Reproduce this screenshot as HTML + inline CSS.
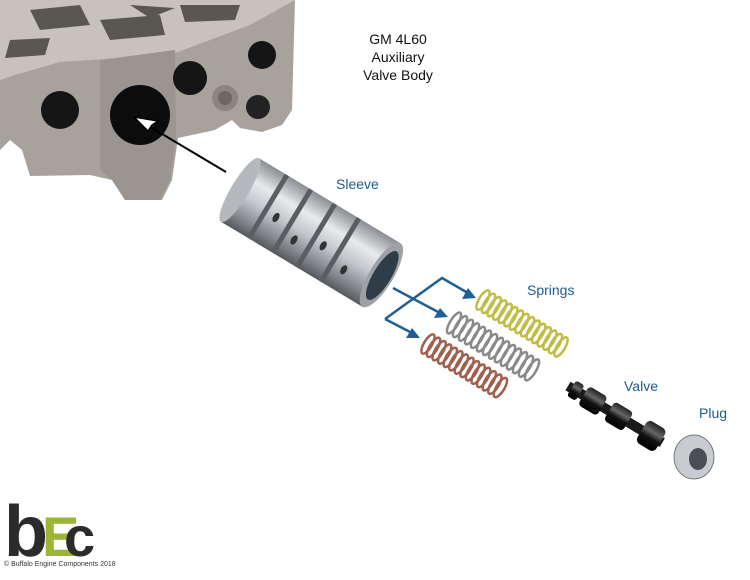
<!DOCTYPE html>
<html><head><meta charset="utf-8"><style>
html,body{margin:0;padding:0;background:#fff;}
svg{display:block;}
text{font-family:"Liberation Sans",sans-serif;}
</style></head><body>
<svg width="750" height="580" viewBox="0 0 750 580" xmlns="http://www.w3.org/2000/svg">
<defs>
<linearGradient id="metal" x1="0" y1="0" x2="0" y2="1">
<stop offset="0" stop-color="#8a8d92"/><stop offset="0.3" stop-color="#e8eaec"/><stop offset="0.55" stop-color="#c4c7cb"/><stop offset="0.85" stop-color="#7d8085"/><stop offset="1" stop-color="#55585c"/>
</linearGradient>
<linearGradient id="blk" x1="0" y1="0" x2="0" y2="1">
<stop offset="0" stop-color="#222"/><stop offset="0.35" stop-color="#666"/><stop offset="0.6" stop-color="#111"/><stop offset="1" stop-color="#000"/>
</linearGradient>
</defs>
<!-- valve body -->
<path d="M0,0 L295,0 L292,110 L282,125 L262,132 L240,128 L232,120 L215,130 L178,138 L172,180 L162,200 L125,200 L112,180 L90,175 L30,176 L22,150 L10,140 L0,150 Z" fill="#a7a29c"/>
<path d="M0,0 L295,0 L250,25 L170,55 L60,62 L15,75 L0,80 Z" fill="#c7c2bb"/>
<path d="M30,10 L80,5 L90,25 L40,30 Z M100,20 L160,15 L165,35 L110,40 Z M180,5 L240,5 L235,20 L185,22 Z M10,40 L50,38 L45,55 L5,58 Z M130,5 L175,8 L150,18Z" fill="#5a5753"/>
<path d="M100,60 L175,50 L176,138 L170,180 L160,200 L125,200 L112,180 L100,170 Z" fill="#9a9590"/>
<circle cx="140" cy="115" r="30" fill="#0c0c0c"/>
<circle cx="60" cy="110" r="19" fill="#151515"/>
<circle cx="190" cy="78" r="17" fill="#151515"/>
<circle cx="262" cy="55" r="14" fill="#151515"/>
<circle cx="258" cy="107" r="12" fill="#222"/>
<circle cx="225" cy="98" r="13" fill="#8a857f"/>
<circle cx="225" cy="98" r="7" fill="#6d6863"/>
<!-- black arrow -->
<line x1="226" y1="172" x2="142" y2="122" stroke="#000" stroke-width="2"/>
<path d="M134,117 L158,121 L152,125 L148,131 Z" fill="#fff" stroke="#000" stroke-width="1.5"/>
<!-- labels -->
<text x="398" y="44" font-size="14" text-anchor="middle" fill="#111">GM 4L60</text>
<text x="398" y="62" font-size="14" text-anchor="middle" fill="#111">Auxiliary</text>
<text x="398" y="80" font-size="14" text-anchor="middle" fill="#111">Valve Body</text>
<text x="336" y="189" font-size="14" fill="#1e5b8c">Sleeve</text>
<text x="527" y="295" font-size="14" fill="#1e5b8c">Springs</text>
<text x="624" y="391" font-size="14" fill="#1e5b8c">Valve</text>
<text x="699" y="418" font-size="14" fill="#1e5b8c">Plug</text>
<!-- sleeve -->
<g transform="translate(240,190) rotate(31)">
<rect x="0" y="-37" width="165" height="74" fill="url(#metal)"/>
<ellipse cx="0" cy="0" rx="9" ry="37" fill="#b5b8bc"/>
<rect x="30" y="-37" width="5" height="74" fill="#5a5d61"/>
<rect x="58" y="-37" width="5" height="74" fill="#5a5d61"/>
<rect x="86" y="-37" width="5" height="74" fill="#5a5d61"/>
<rect x="114" y="-37" width="5" height="74" fill="#5a5d61"/>
<ellipse cx="45" cy="5" rx="3" ry="5" fill="#333"/>
<ellipse cx="72" cy="15" rx="3" ry="5" fill="#333"/>
<ellipse cx="100" cy="5" rx="3" ry="5" fill="#333"/>
<ellipse cx="130" cy="15" rx="3" ry="5" fill="#333"/>
<ellipse cx="165" cy="0" rx="12" ry="37" fill="#9ea2a6"/>
<ellipse cx="166" cy="0" rx="9" ry="28" fill="#2f3d48"/>
</g>
<!-- blue arrows -->
<g stroke="#1f5f98" stroke-width="2.5" fill="none">
<path d="M393,288 L440,313"/><path d="M385,319 L442,278 L468,293"/><path d="M385,319 L412,333"/>
</g>
<g fill="#1f5f98">
<path d="M448,317 L434,318 L440,308 Z"/><path d="M476,298 L462,299 L468,288 Z"/><path d="M420,338 L406,338 L412,328 Z"/>
</g>
<!-- springs -->
<g transform="translate(483,300) rotate(31)" fill="none" stroke="#c2bb45" stroke-width="2.5">
<ellipse cx="0" cy="0" rx="4" ry="11"/><ellipse cx="6.5" cy="0" rx="4" ry="11"/><ellipse cx="13" cy="0" rx="4" ry="11"/><ellipse cx="19.5" cy="0" rx="4" ry="11"/><ellipse cx="26" cy="0" rx="4" ry="11"/><ellipse cx="32.5" cy="0" rx="4" ry="11"/><ellipse cx="39" cy="0" rx="4" ry="11"/><ellipse cx="45.5" cy="0" rx="4" ry="11"/><ellipse cx="52" cy="0" rx="4" ry="11"/><ellipse cx="58.5" cy="0" rx="4" ry="11"/><ellipse cx="65" cy="0" rx="4" ry="11"/><ellipse cx="71.5" cy="0" rx="4" ry="11"/><ellipse cx="78" cy="0" rx="4" ry="11"/><ellipse cx="84.5" cy="0" rx="4" ry="11"/><ellipse cx="91" cy="0" rx="4" ry="11"/>
</g>
<g transform="translate(454,323) rotate(31)" fill="none" stroke="#8a8a8a" stroke-width="2.5">
<ellipse cx="0" cy="0" rx="4" ry="12"/><ellipse cx="7" cy="0" rx="4" ry="12"/><ellipse cx="14" cy="0" rx="4" ry="12"/><ellipse cx="21" cy="0" rx="4" ry="12"/><ellipse cx="28" cy="0" rx="4" ry="12"/><ellipse cx="35" cy="0" rx="4" ry="12"/><ellipse cx="42" cy="0" rx="4" ry="12"/><ellipse cx="49" cy="0" rx="4" ry="12"/><ellipse cx="56" cy="0" rx="4" ry="12"/><ellipse cx="63" cy="0" rx="4" ry="12"/><ellipse cx="70" cy="0" rx="4" ry="12"/><ellipse cx="77" cy="0" rx="4" ry="12"/><ellipse cx="84" cy="0" rx="4" ry="12"/><ellipse cx="91" cy="0" rx="4" ry="12"/>
</g>
<g transform="translate(428,344) rotate(31)" fill="none" stroke="#a0604c" stroke-width="2.5">
<ellipse cx="0" cy="0" rx="4" ry="11"/><ellipse cx="6.5" cy="0" rx="4" ry="11"/><ellipse cx="13" cy="0" rx="4" ry="11"/><ellipse cx="19.5" cy="0" rx="4" ry="11"/><ellipse cx="26" cy="0" rx="4" ry="11"/><ellipse cx="32.5" cy="0" rx="4" ry="11"/><ellipse cx="39" cy="0" rx="4" ry="11"/><ellipse cx="45.5" cy="0" rx="4" ry="11"/><ellipse cx="52" cy="0" rx="4" ry="11"/><ellipse cx="58.5" cy="0" rx="4" ry="11"/><ellipse cx="65" cy="0" rx="4" ry="11"/><ellipse cx="71.5" cy="0" rx="4" ry="11"/><ellipse cx="78" cy="0" rx="4" ry="11"/><ellipse cx="84.5" cy="0" rx="4" ry="11"/>
</g>
<!-- valve -->
<g transform="translate(568,386) rotate(31)">
<rect x="0" y="-5" width="110" height="10" fill="#1a1a1a"/>
<rect x="4" y="-9" width="10" height="18" rx="3" fill="url(#blk)"/>
<rect x="18" y="-11" width="22" height="22" rx="4" fill="url(#blk)"/>
<rect x="48" y="-11" width="22" height="22" rx="4" fill="url(#blk)"/>
<rect x="86" y="-13" width="22" height="26" rx="5" fill="url(#blk)"/>
</g>
<!-- plug -->
<ellipse cx="694" cy="457" rx="20" ry="22" fill="#c8cbcf" stroke="#777" stroke-width="1"/>
<ellipse cx="698" cy="459" rx="9" ry="11" fill="#4a4d52"/>
<!-- logo -->
<text x="4" y="556" font-size="72" font-weight="bold" fill="#2b2b2b" letter-spacing="-5">b</text>
<text x="42" y="556" font-size="56" font-weight="bold" fill="#9bb534">E</text>
<text x="64" y="556" font-size="56" font-weight="bold" fill="#2b2b2b">c</text>
<text x="4" y="566" font-size="7" fill="#333">© Buffalo Engine Components 2018</text>
</svg>
</body></html>
